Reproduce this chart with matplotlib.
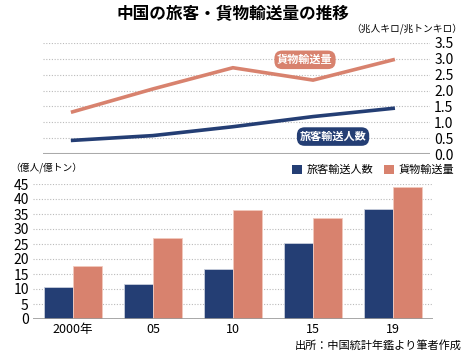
import matplotlib
matplotlib.use("Agg")
import matplotlib.pyplot as plt
import numpy as np
from matplotlib.patches import Patch

plt.rcParams["font.family"] = ["Noto Sans CJK JP", "DejaVu Sans"]

# data
years = ["2000年", "05", "10", "15", "19"]
passenger_km = [0.43, 0.58, 0.86, 1.18, 1.44]   # 兆人キロ
freight_km = [1.33, 2.05, 2.72, 2.33, 2.97]     # 兆トンキロ
passengers = [10.6, 11.6, 16.8, 25.3, 36.7]     # 億人
freight = [17.8, 26.9, 36.4, 33.7, 43.9]        # 億トン

NAVY = "#243e74"
ORANGE = "#d8826e"
GRID = "#bbbbbb"
NUM_FONT = ["Liberation Sans Narrow", "Noto Sans CJK JP", "DejaVu Sans"]

W, H = 465, 355
fig = plt.figure(figsize=(W / 100, H / 100), dpi=100)


def box(left, top, right, bottom):
    return [left / W, 1 - bottom / H, (right - left) / W, (bottom - top) / H]


x = np.arange(len(years))

# ---- top: line chart
ax1 = fig.add_axes(box(43, 43, 430, 154))
ax1.plot(x, freight_km, color=ORANGE, lw=2.6, solid_joinstyle="miter")
ax1.plot(x, passenger_km, color=NAVY, lw=2.6, solid_joinstyle="miter")
ax1.set_xlim(-0.37, 4.46)
ax1.set_ylim(0, 3.5)
ax1.set_yticks(np.arange(0, 3.51, 0.5))
ax1.set_yticklabels([f"{v:.1f}" for v in np.arange(0, 3.51, 0.5)], family=NUM_FONT)
ax1.yaxis.tick_right()
ax1.tick_params(axis="y", length=0, pad=3, labelsize=10)
ax1.set_xticks([])
for s in ax1.spines.values():
    s.set_visible(False)
ax1.grid(axis="y", color=GRID, ls=(0, (1, 1.5)), lw=0.8)
ax1.axhline(0, color="#aaaaaa", lw=2.2)

ax1.text(2.9, 2.97, "貨物輸送量", color="white", fontsize=8, fontweight="bold",
         ha="center", va="center",
         bbox=dict(boxstyle="round,pad=0.25,rounding_size=0.7", fc=ORANGE, ec="none"))
ax1.text(3.25, 0.55, "旅客輸送人数", color="white", fontsize=8, fontweight="bold",
         ha="center", va="center",
         bbox=dict(boxstyle="round,pad=0.25,rounding_size=0.7", fc=NAVY, ec="none"))

# ---- bottom: bar chart
ax2 = fig.add_axes(box(33, 184, 433, 319))
bw = 0.36
ax2.bar(x - bw / 2, passengers, bw, color=NAVY, edgecolor="#c9cfdc", lw=0.6, zorder=3)
ax2.bar(x + bw / 2, freight, bw, color=ORANGE, edgecolor="#f2c9bd", lw=0.6, zorder=3)
ax2.set_xlim(-0.5, 4.5)
ax2.set_ylim(0, 45)
ax2.set_yticks(np.arange(0, 46, 5))
ax2.set_yticklabels([str(v) for v in range(0, 46, 5)], family=NUM_FONT)
ax2.tick_params(axis="y", length=0, pad=3, labelsize=10)
ax2.set_xticks(x)
ax2.set_xticklabels(years, family=NUM_FONT)
ax2.tick_params(axis="x", length=0, pad=3, labelsize=9)
for s in ax2.spines.values():
    s.set_visible(False)
ax2.grid(axis="y", color=GRID, ls=(0, (1, 1.5)), lw=0.8, zorder=0)
ax2.axhline(0, color="#999999", lw=1.2, zorder=4)

handles = [Patch(facecolor=NAVY, label="旅客輸送人数"),
           Patch(facecolor=ORANGE, label="貨物輸送量")]
fig.legend(handles=handles, loc="center right", bbox_to_anchor=(460 / W, 1 - 170 / H),
           ncol=2, frameon=False, fontsize=8, handlelength=0.9, handleheight=0.9,
           handletextpad=0.4, columnspacing=1.0, borderpad=0)

# ---- texts
fig.text(0.5, 1 - 14 / H, "中国の旅客・貨物輸送量の推移", ha="center", va="center",
         fontsize=12, fontweight="bold")
fig.text(462 / W, 1 - 29 / H, "（兆人キロ/兆トンキロ）", ha="right", va="center", fontsize=7)
fig.text(10 / W, 1 - 168 / H, "（億人/億トン）", ha="left", va="center", fontsize=7)
fig.text(462 / W, 1 - 345 / H, "出所：中国統計年鑑より筆者作成", ha="right", va="center",
         fontsize=8)

fig.savefig("out.png", dpi=100)
